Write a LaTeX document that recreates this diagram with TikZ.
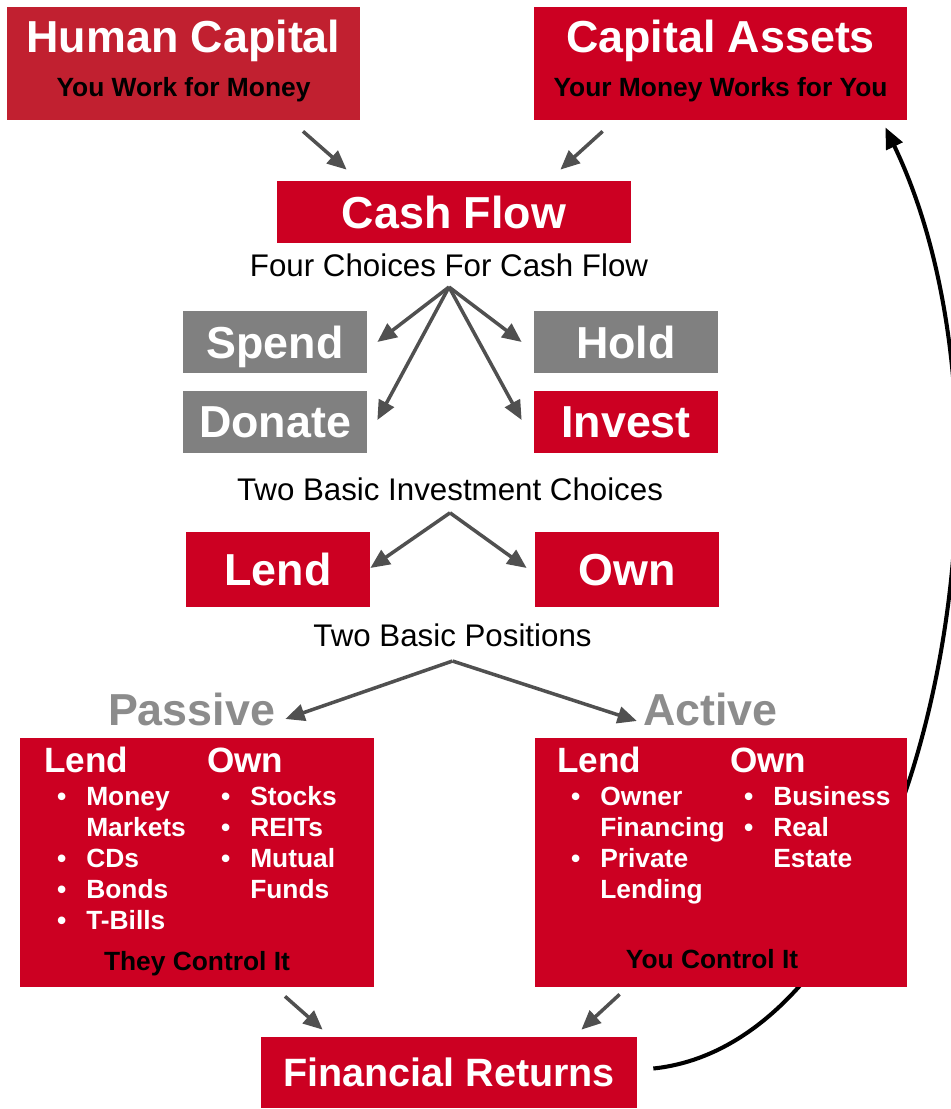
\documentclass[tikz,border=0pt]{standalone}
\usepackage{fontspec}
\setmainfont{Liberation Sans}
\usetikzlibrary{arrows.meta, positioning, calc}

\definecolor{boxred}{RGB}{204,0,34}
\definecolor{hcred}{RGB}{193,32,48}
\definecolor{boxgrey}{RGB}{128,128,128}
\definecolor{arrowgrey}{RGB}{80,80,80}
\definecolor{labelgrey}{RGB}{140,140,140}

\newcommand{\hugefont}{\fontsize{25.5}{30}\selectfont\bfseries}
\newcommand{\headfont}{\fontsize{20}{24}\selectfont\bfseries}
\newcommand{\itemfont}{\fontsize{15}{17.6}\selectfont\bfseries}
\newcommand{\capfont}{\fontsize{17.8}{21}\selectfont}
\newcommand{\returnsfont}{\fontsize{22.5}{27}\selectfont\bfseries}
\newcommand{\blist}[1]{\begin{tabular}[t]{@{}l@{\hspace{11.4pt}}l@{}}#1\end{tabular}}
\newcommand{\subline}[1]{{\itemfont\color{black}#1\rule[-0.2cm]{0pt}{0.2cm}}}

\pgfdeclarelayer{bg}
\pgfsetlayers{bg,main}

\begin{document}
\begin{tikzpicture}[
    redbox/.style={rectangle, fill=boxred, text=white, inner sep=0pt, align=center},
    greybox/.style={redbox, fill=boxgrey},
    choice/.style={minimum width=3.68cm, minimum height=1.24cm, font=\hugefont, text depth=0pt},
    caption/.style={inner sep=0pt, font=\capfont},
    headtext/.style={inner sep=0pt, text=white, font=\headfont, anchor=base west},
    listtext/.style={inner sep=0pt, text=white, font=\itemfont, anchor=base west},
    garrow/.style={draw=arrowgrey, line width=2pt, -{Triangle[length=11pt,width=9.5pt]}},
    backarrow/.style={draw=black, line width=2.3pt, -{Triangle[length=12pt,width=10pt]}}]

    \useasboundingbox (0,0) rectangle (19,-22.18);

    % Top row
    \node [redbox, fill=hcred, minimum width=7.06cm, minimum height=2.26cm] (hc) at (3.67,-1.27)
        {{\hugefont Human Capital}\\[8pt]\subline{You Work for Money}};
    \node [redbox, minimum width=7.46cm, minimum height=2.26cm] (ca) at (14.41,-1.27)
        {{\hugefont Capital Assets}\\[8pt]\subline{Your Money Works for You}};

    % Cash flow and its four choices
    \node [redbox, choice, minimum width=7.08cm] (cf) at (9.08,-4.24) {Cash Flow};
    \node [caption, below=0.2cm of cf, xshift=-0.1cm] (fourtxt) {Four Choices For Cash Flow};
    \coordinate (fourtip) at ([yshift=-0.2cm]fourtxt.south);

    \node [greybox, choice] (spend) at (5.5,-6.84) {Spend};
    \node [greybox, choice] (hold) at (12.52,-6.84) {Hold};
    \node [greybox, choice] (donate) at (5.5,-8.44) {Donate};
    \node [redbox, choice] (invest) at (12.52,-8.44) {Invest};

    % Investment choices
    \node [caption] (twochoices) at (9.0,-9.78) {Two Basic Investment Choices};
    \coordinate (choicetip) at ([yshift=-0.24cm]twochoices.south);
    \node [redbox, choice, minimum height=1.5cm] (lend) at (5.56,-11.39) {Lend};
    \node [redbox, choice, minimum height=1.5cm] (own) at (12.54,-11.39) {Own};

    % Positions
    \node [caption, below=0.32cm of $(lend.south)!0.5!(own.south)$] (twopos) {Two Basic Positions};
    \coordinate (postip) at ([yshift=-0.28cm]twopos.south);
    \node [inner sep=0pt, text=labelgrey, font=\hugefont, anchor=base] (passive) at (3.83,-14.5) {Passive};
    \node [inner sep=0pt, text=labelgrey, font=\hugefont, anchor=base] (active) at (14.21,-14.5) {Active};

    % Passive box
    \node [redbox, minimum width=7.08cm, minimum height=4.98cm] (pb) at (3.94,-17.25) {};
    \node [headtext] (plendhead) at ($(pb.north west)+(0.48,-0.7)$) {Lend};
    \node [headtext] (pownhead) at ($(pb.north west)+(3.74,-0.7)$) {Own};
    \node [listtext] (plendlist) at ($(pb.north west)+(0.74,-1.36)$)
        {\blist{•&Money\\&Markets\\•&CDs\\•&Bonds\\•&T-Bills}};
    \node [listtext] (pownlist) at ($(pb.north west)+(4.02,-1.36)$)
        {\blist{•&Stocks\\•&REITs\\•&Mutual\\&Funds}};
    \node [inner sep=0pt, font=\itemfont, anchor=base] (pctrl) at ([yshift=0.34cm]pb.south) {They Control It};

    % Active box
    \node [redbox, minimum width=7.44cm, minimum height=4.98cm] (ab) at (14.42,-17.25) {};
    \node [headtext] (alendhead) at ($(ab.north west)+(0.44,-0.7)$) {Lend};
    \node [headtext] (aownhead) at ($(ab.north west)+(3.9,-0.7)$) {Own};
    \node [listtext] (alendlist) at ($(ab.north west)+(0.72,-1.36)$)
        {\blist{•&Owner\\&Financing\\•&Private\\&Lending}};
    \node [listtext] (aownlist) at ($(ab.north west)+(4.18,-1.36)$)
        {\blist{•&Business\\•&Real\\&Estate}};
    \node [inner sep=0pt, font=\itemfont, anchor=base] (actrl) at ([xshift=-0.18cm,yshift=0.38cm]ab.south) {You Control It};

    % Returns
    \node [redbox, minimum width=7.52cm, minimum height=1.42cm, font=\returnsfont, text depth=0pt] (fr) at (8.98,-21.45) {Financial Returns};

    % Arrows
    \draw [garrow] ($(hc.south)+(2.39,-0.22)$) -- ($(cf.north west)+(1.4,0.22)$);
    \draw [garrow] ($(ca.south west)+(1.38,-0.22)$) -- ($(cf.north east)+(-1.42,0.22)$);

    \draw [garrow] (fourtip) -- ([xshift=0.2cm]spend.east);
    \draw [garrow] (fourtip) -- ([xshift=-0.24cm]hold.west);
    \draw [garrow] (fourtip) -- ([xshift=0.2cm,yshift=0.04cm]donate.east);
    \draw [garrow] (fourtip) -- ([xshift=-0.24cm,yshift=0.04cm]invest.west);

    \draw [garrow] (choicetip) -- ([yshift=0.03cm]lend.east);
    \draw [garrow] (choicetip) -- ([xshift=-0.16cm,yshift=0.03cm]own.west);

    \draw [garrow] (postip) -- ([xshift=0.2cm,yshift=-0.2cm]passive.east);
    \draw [garrow] (postip) -- ([xshift=-0.12cm,yshift=-0.24cm]active.west);

    \draw [garrow] ($(pb.south)+(1.76,-0.18)$) -- ($(fr.north west)+(1.24,0.14)$);
    \draw [garrow] ($(ab.south west)+(1.7,-0.14)$) -- ($(fr.north east)+(-1.12,0.14)$);

    % Feedback curve behind the active box
    \begin{pgfonlayer}{bg}
        \draw [backarrow] ([xshift=0.32cm,yshift=0.08cm]fr.east) .. controls +(5.34,0.56) and +(3.1,-6.46) .. ([xshift=-0.44cm,yshift=-0.14cm]ca.south east);
    \end{pgfonlayer}

\end{tikzpicture}
\end{document}
